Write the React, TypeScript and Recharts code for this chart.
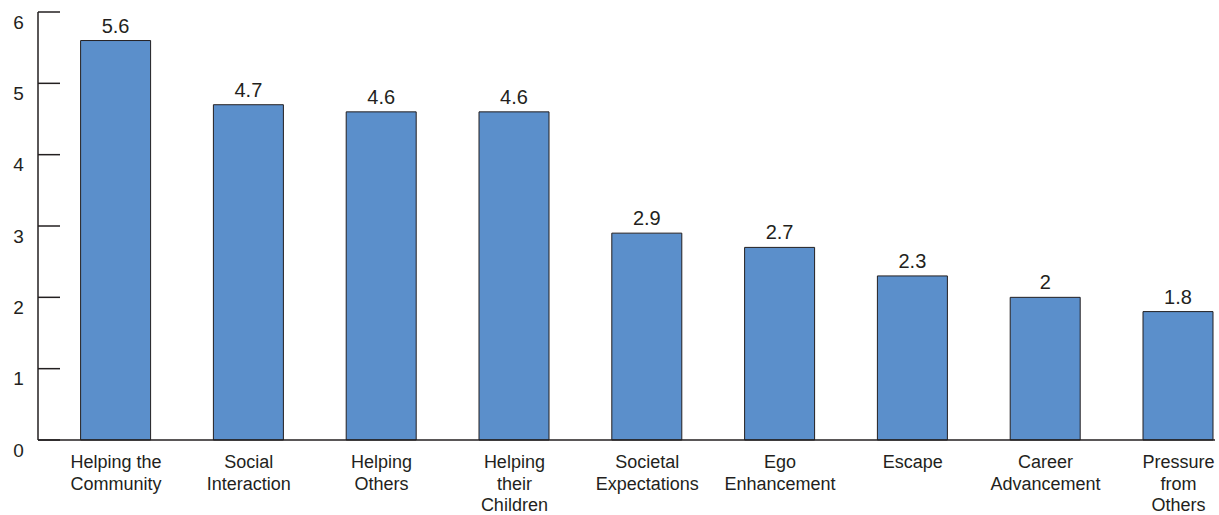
import React from 'react';
import { BarChart, Bar, XAxis, YAxis, LabelList } from 'recharts';

const categories = [
  'Helping the\nCommunity',
  'Social\nInteraction',
  'Helping\nOthers',
  'Helping\ntheir\nChildren',
  'Societal\nExpectations',
  'Ego\nEnhancement',
  'Escape',
  'Career\nAdvancement',
  'Pressure\nfrom\nOthers',
];
const values = [5.6, 4.7, 4.6, 4.6, 2.9, 2.7, 2.3, 2, 1.8];
const yTicks = [0, 1, 2, 3, 4, 5, 6];

const data = categories.map((name, i) => ({ name, value: values[i] }));

const INK = '#231f20';
const FONT = '"Liberation Sans", Arial, sans-serif';

const CategoryTick = (props: any) => {
  const { x, y, payload } = props;
  const lines = String(payload.value).split('\n');
  return (
    <text x={x} y={y + 28} textAnchor="middle" fill={INK} fontSize={18} fontFamily={FONT}>
      {lines.map((l, i) => (
        <tspan key={i} x={x} dy={i === 0 ? 0 : 21.5}>
          {l}
        </tspan>
      ))}
    </text>
  );
};

// ticks point inward, labels sit a bit below the tick
const ValueTick = (props: any) => {
  const { x, y, payload } = props;
  return (
    <g>
      <line x1={x} y1={y} x2={x + 22} y2={y} stroke={INK} strokeWidth={1.5} />
      <text x={x - 19.5} y={y + 16.5} textAnchor="middle" fill={INK} fontSize={19} fontFamily={FONT}>
        {payload.value}
      </text>
    </g>
  );
};

const BarValue = (props: any) => {
  const { x, y, width, value } = props;
  return (
    <text x={x + width / 2} y={y - 8} textAnchor="middle" fill={INK} fontSize={20} fontFamily={FONT}>
      {value}
    </text>
  );
};

export default function App() {
  return (
    <div style={{ width: 1215, height: 515, overflow: 'hidden' }}>
      <style>{'body{margin:0}'}</style>
      <BarChart
        width={1215}
        height={515}
        data={data}
        margin={{ top: 12, right: -29.8, bottom: 0, left: 0 }}
        barSize={70}
      >
        <XAxis
          dataKey="name"
          interval={0}
          height={75}
          padding={{ left: 11.6, right: 0 }}
          axisLine={{ stroke: INK, strokeWidth: 1.5 }}
          tickLine={false}
          tickSize={0}
          tickMargin={0}
          tick={<CategoryTick />}
        />
        <YAxis
          width={38}
          domain={[0, 6]}
          ticks={yTicks}
          interval={0}
          axisLine={{ stroke: INK, strokeWidth: 1.5 }}
          tickLine={false}
          tickSize={0}
          tickMargin={0}
          tick={<ValueTick />}
        />
        <Bar dataKey="value" fill="#5b8fcb" stroke={INK} strokeWidth={1} isAnimationActive={false}>
          <LabelList dataKey="value" content={<BarValue />} />
        </Bar>
      </BarChart>
    </div>
  );
}
